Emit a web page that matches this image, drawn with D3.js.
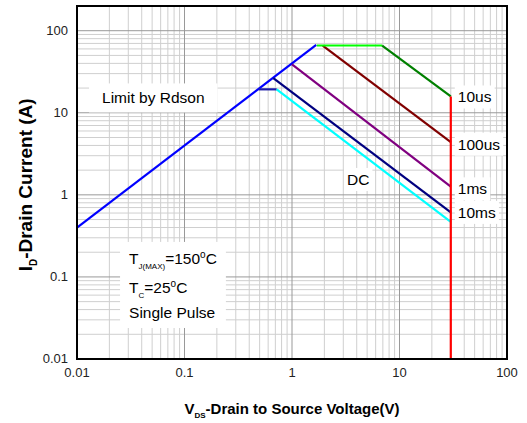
<!DOCTYPE html>
<html>
<head>
<meta charset="utf-8">
<script src="https://cdn.jsdelivr.net/npm/d3@7"></script>
<style>
  body { margin: 0; background: #fff; }
  svg { font-family: "Liberation Sans", Arial, sans-serif; }
</style>
</head>
<body>
<div id="chart"></div>
<script>
// SOA curves, [Vds, Id] pairs
const rdson    = [[0.01, 0.4], [1.68, 67]];
const us10Flat = [[1.7, 66], [6.9, 66]];
const us10     = [[6.9, 66], [30, 15.8]];
const us100    = [[1.93, 66], [30, 4.4]];
const ms1      = [[1.0, 39], [30, 1.26]];
const ms10     = [[0.67, 26.5], [30, 0.61]];
const dcFlat   = [[0.49, 19.3], [0.72, 19.3]];
const dc       = [[0.72, 19.3], [30, 0.47]];
const bvLimit  = [[30, 15.8], [30, 0.01]];

const xTicks = [0.01, 0.1, 1, 10, 100];
const yTicks = [0.01, 0.1, 1, 10, 100];

const curveLabels = [
  { text: "10us", v: 30, i: 15.8 },
  { text: "100us", v: 30, i: 4.2 },
  { text: "1ms", v: 30, i: 1.2 },
  { text: "10ms", v: 30, i: 0.62 }
];

const W = 527, H = 423;
const margin = { top: 6, right: 20, bottom: 64, left: 77 };

const x = d3.scaleLog().domain([0.01, 100]).range([margin.left, W - margin.right]);
const y = d3.scaleLog().domain([0.01, 200]).range([H - margin.bottom, margin.top]);

const svg = d3.select("#chart").append("svg")
  .attr("width", W).attr("height", H);

// grid: minor lines at 2..9 of each decade, majors at the decades
let xMinor = [], yMinor = [];
for (let e = -2; e < 2; e++) {
  for (let k = 2; k <= 9; k++) {
    xMinor.push(k * Math.pow(10, e));
    yMinor.push(k * Math.pow(10, e));
  }
}
yMinor.push(200);

const grid = svg.append("g");
grid.selectAll(".xm").data(xMinor).enter().append("line")
  .attr("x1", d => x(d)).attr("x2", d => x(d))
  .attr("y1", y.range()[0]).attr("y2", y.range()[1])
  .attr("stroke", "#cfcfcf").attr("stroke-width", 1);
grid.selectAll(".ym").data(yMinor).enter().append("line")
  .attr("y1", d => y(d)).attr("y2", d => y(d))
  .attr("x1", x.range()[0]).attr("x2", x.range()[1])
  .attr("stroke", "#cfcfcf").attr("stroke-width", 1);
grid.selectAll(".xM").data(xTicks).enter().append("line")
  .attr("x1", d => x(d)).attr("x2", d => x(d))
  .attr("y1", y.range()[0]).attr("y2", y.range()[1])
  .attr("stroke", "#999").attr("stroke-width", 1);
grid.selectAll(".yM").data(yTicks).enter().append("line")
  .attr("y1", d => y(d)).attr("y2", d => y(d))
  .attr("x1", x.range()[0]).attr("x2", x.range()[1])
  .attr("stroke", "#999").attr("stroke-width", 1);

// white boxes behind the text annotations
function labelBox(g, pad) {
  const b = g.node().getBBox();
  g.insert("rect", ":first-child")
    .attr("x", b.x - pad[0]).attr("y", b.y - pad[1])
    .attr("width", b.width + 2 * pad[0]).attr("height", b.height + 2 * pad[1])
    .attr("fill", "#fff");
}

const rds = svg.append("g");
rds.append("text").attr("x", x(0.0171)).attr("y", y(13))
  .attr("font-size", 15.5).text("Limit by Rdson");
labelBox(rds, [13, 6]);

const cond = svg.append("g").attr("font-size", 15.5);
let t1 = cond.append("text").attr("x", x(0.0305)).attr("y", y(0.144));
t1.append("tspan").text("T");
t1.append("tspan").attr("font-size", 8).attr("dy", 5).text("J(MAX)");
t1.append("tspan").attr("dy", -5).text("=150");
t1.append("tspan").attr("font-size", 10).attr("dy", -6).text("o");
t1.append("tspan").attr("dy", 6).text("C");
let t2 = cond.append("text").attr("x", x(0.0305)).attr("y", y(0.064));
t2.append("tspan").text("T");
t2.append("tspan").attr("font-size", 8).attr("dy", 5).text("C");
t2.append("tspan").attr("dy", -5).text("=25");
t2.append("tspan").attr("font-size", 10).attr("dy", -6).text("o");
t2.append("tspan").attr("dy", 6).text("C");
cond.append("text").attr("x", x(0.0305)).attr("y", y(0.0316)).text("Single Pulse");
labelBox(cond, [9, 7]);

const dcLab = svg.append("g");
dcLab.append("text").attr("x", x(3.25)).attr("y", y(1.32))
  .attr("font-size", 15.5).text("DC");
labelBox(dcLab, [3, 3]);

// curves
const line = d3.line().x(d => x(d[0])).y(d => y(d[1]));
const curves = [
  { data: rdson, color: "#0000ff" },
  { data: dcFlat, color: "#1c1ca8" },
  { data: dc, color: "#00ffff" },
  { data: ms10, color: "#000080" },
  { data: ms1, color: "#800080" },
  { data: us100, color: "#800000" },
  { data: us10Flat, color: "#00ff00" },
  { data: us10, color: "#008000" },
  { data: bvLimit, color: "#ff0000" }
];
svg.selectAll(".curve").data(curves).enter().append("path")
  .attr("d", d => line(d.data))
  .attr("fill", "none")
  .attr("stroke", d => d.color)
  .attr("stroke-width", 2.2);

// curve labels on the right
curveLabels.forEach(function (c) {
  const g = svg.append("g");
  g.append("text").attr("x", x(c.v) + 7).attr("y", y(c.i) + 6)
    .attr("font-size", 15.5).text(c.text);
  labelBox(g, [3, 3]);
});

// frame
svg.append("rect")
  .attr("x", x.range()[0]).attr("y", y.range()[1])
  .attr("width", x.range()[1] - x.range()[0])
  .attr("height", y.range()[0] - y.range()[1])
  .attr("fill", "none").attr("stroke", "#000").attr("stroke-width", 2);

// tick labels
svg.selectAll(".xt").data(xTicks).enter().append("text")
  .attr("x", d => x(d)).attr("y", y.range()[0] + 18)
  .attr("text-anchor", "middle").attr("font-size", 13).attr("fill", "#222")
  .text(d => d);
svg.selectAll(".yt").data(yTicks).enter().append("text")
  .attr("x", x.range()[0] - 9).attr("y", d => y(d) + 4)
  .attr("text-anchor", "end").attr("font-size", 13).attr("fill", "#222")
  .text(d => d);

// axis titles
let xt = svg.append("text").attr("x", (x.range()[0] + x.range()[1]) / 2).attr("y", 414)
  .attr("text-anchor", "middle").attr("font-size", 15).attr("font-weight", "bold");
xt.append("tspan").text("V");
xt.append("tspan").attr("font-size", 8).attr("dy", 4).text("DS");
xt.append("tspan").attr("dy", -4).text("-Drain to Source Voltage(V)");

let yt = svg.append("text")
  .attr("transform", "translate(32," + (y(1) - 10) + ") rotate(-90)")
  .attr("text-anchor", "middle").attr("font-size", 19).attr("font-weight", "bold");
yt.append("tspan").text("I");
yt.append("tspan").attr("font-size", 10).attr("dy", 5).text("D");
yt.append("tspan").attr("dy", -5).text("-Drain Current (A)");
</script>
</body>
</html>
